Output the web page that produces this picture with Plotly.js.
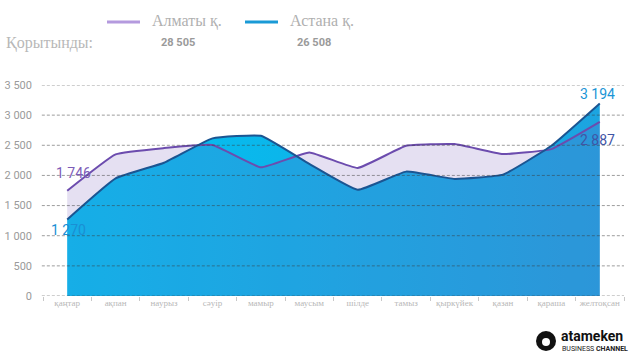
<!DOCTYPE html>
<html>
<head>
<meta charset="utf-8">
<script src="https://cdn.plot.ly/plotly-3.0.1.min.js"></script>
<style>html,body{margin:0;padding:0;background:#fff;}#chart{width:632px;height:364px;}</style>
</head>
<body>
<div id="chart"></div>
<script>
const months = ['қаңтар','ақпан','наурыз','сәуір','мамыр','маусым','шілде','тамыз','қыркүйек','қазан','қараша','желтоқсан'];
const almaty = [1746, 2350, 2453, 2504, 2134, 2381, 2124, 2492, 2520, 2355, 2437, 2887];
const astana = [1270, 1951, 2211, 2615, 2657, 2190, 1761, 2063, 1942, 2013, 2492, 3194];
const seriesNames = ['Алматы қ.', 'Астана қ.'];
const totalLabel = 'Қорытынды:';
const totals = [28505, 26508];
const yTicks = [0, 500, 1000, 1500, 2000, 2500, 3000, 3500];

const fmt = v => String(v).replace(/\B(?=(\d{3})+(?!\d))/g, ' ');
// pixel -> paper helpers (plot area 43..624 x, 85..296 y)
const L = 43, R = 624, T = 85, B = 296;
const xp = px => (px - L) / (R - L);
const yp = py => (B - py) / (B - T);

const last = months.length - 1;
const traces = [
  {x: months, y: astana, type: 'scatter', mode: 'lines', fill: 'tozeroy',
   line: {width: 0, shape: 'spline', smoothing: 0.35},
   fillgradient: {type: 'horizontal', colorscale: [[0, '#00c2f2'], [1, '#1ca4e0']]},
   hoverinfo: 'skip', showlegend: false},
  {x: months, y: almaty, type: 'scatter', mode: 'lines', fill: 'tozeroy',
   line: {width: 0, shape: 'spline', smoothing: 0.35},
   fillcolor: 'rgba(118,88,188,0.19)', hoverinfo: 'skip', showlegend: false},
  {x: months, y: almaty, type: 'scatter', mode: 'lines', name: seriesNames[0],
   line: {width: 2, color: '#6c4cae', shape: 'spline', smoothing: 0.35}, showlegend: false},
  {x: months, y: astana, type: 'scatter', mode: 'lines', name: seriesNames[1],
   line: {width: 2, color: '#1b5592', shape: 'spline', smoothing: 0.35}, showlegend: false}
];

const shapes = yTicks.map(v => ({type: 'line', xref: 'paper', yref: 'y', x0: -0.002, x1: 1.0, y0: v, y1: v,
  line: {color: 'rgba(60,60,60,0.5)', width: 1, dash: '3px,2px'}, layer: 'above'}));
// legend samples
shapes.push({type: 'line', xref: 'paper', yref: 'paper', x0: xp(107), x1: xp(140), y0: yp(22), y1: yp(22),
  line: {color: '#b49ade', width: 3}});
shapes.push({type: 'line', xref: 'paper', yref: 'paper', x0: xp(245), x1: xp(278), y0: yp(22), y1: yp(22),
  line: {color: '#1a9ad6', width: 3}});
// logo mark
shapes.push({type: 'circle', xref: 'paper', yref: 'paper', x0: xp(536), x1: xp(556), y0: yp(351), y1: yp(331),
  fillcolor: '#111', line: {width: 0}});
shapes.push({type: 'circle', xref: 'paper', yref: 'paper', x0: xp(542), x1: xp(550), y0: yp(346), y1: yp(338),
  fillcolor: '#fff', line: {width: 0}});

const serif = 'Liberation Serif, Times New Roman, serif';
const annotations = [
  {x: months[0], y: almaty[0], xref: 'x', yref: 'y', text: fmt(almaty[0]), showarrow: false,
   xshift: 6, yshift: 18, font: {family: 'Roboto', size: 14, color: '#7d5cb8'}},
  {x: months[0], y: astana[0], xref: 'x', yref: 'y', text: fmt(astana[0]), showarrow: false,
   xshift: 1, yshift: -11, font: {family: 'Roboto', size: 14, color: '#1a8fd4'}},
  {x: months[last], y: astana[last], xref: 'x', yref: 'y', text: fmt(astana[last]), showarrow: false,
   xshift: -2, yshift: 9, font: {family: 'Roboto', size: 14, color: '#1a95d6'}},
  {x: months[last], y: almaty[last], xref: 'x', yref: 'y', text: fmt(almaty[last]), showarrow: false,
   xshift: -2, yshift: -18, font: {family: 'Roboto', size: 14, color: '#3f55a6'}},
  {xref: 'paper', yref: 'paper', x: xp(150), y: yp(21), xanchor: 'left', yanchor: 'middle', showarrow: false,
   text: seriesNames[0], font: {family: serif, size: 16, color: '#b0b0b0'}},
  {xref: 'paper', yref: 'paper', x: xp(288), y: yp(21), xanchor: 'left', yanchor: 'middle', showarrow: false,
   text: seriesNames[1], font: {family: serif, size: 16, color: '#b0b0b0'}},
  {xref: 'paper', yref: 'paper', x: xp(4), y: yp(43), xanchor: 'left', yanchor: 'middle', showarrow: false,
   text: totalLabel, font: {family: serif, size: 16, color: '#b8b8b8'}},
  {xref: 'paper', yref: 'paper', x: xp(178), y: yp(42), xanchor: 'center', yanchor: 'middle', showarrow: false,
   text: '<b>' + fmt(totals[0]) + '</b>', font: {family: 'Roboto', size: 11, color: '#9a9a9a'}},
  {xref: 'paper', yref: 'paper', x: xp(314), y: yp(42), xanchor: 'center', yanchor: 'middle', showarrow: false,
   text: '<b>' + fmt(totals[1]) + '</b>', font: {family: 'Roboto', size: 11, color: '#9a9a9a'}},
  {xref: 'paper', yref: 'paper', x: xp(559), y: yp(336), xanchor: 'left', yanchor: 'middle', showarrow: false,
   text: '<b>atameken</b>', font: {family: 'Roboto', size: 14, color: '#111'}},
  {xref: 'paper', yref: 'paper', x: xp(560), y: yp(349), xanchor: 'left', yanchor: 'middle', showarrow: false,
   text: 'BUSINESS <b>CHANNEL</b>', font: {family: 'Roboto', size: 7, color: '#222'}}
];

const layout = {
  width: 632, height: 364,
  margin: {l: L, r: 632 - R, t: T, b: 364 - B, pad: 0},
  paper_bgcolor: '#fff', plot_bgcolor: '#fff',
  showlegend: false,
  xaxis: {type: 'category', range: [-0.5, 11.5], showgrid: false, zeroline: false, showline: false,
    ticks: 'outside', tickson: 'boundaries', ticklen: 4, tickcolor: '#c8c8c8', tickwidth: 1,
    tickangle: 0, automargin: false,
    tickfont: {family: serif, size: 9, color: '#b8b8b8'}, fixedrange: true},
  yaxis: {range: [0, 3500], tickvals: yTicks, ticktext: yTicks.map(fmt), showgrid: false, zeroline: false,
    showline: false, ticks: '', ticklabelstandoff: 10,
    tickfont: {family: 'Roboto', size: 11, color: '#9a9a9a'}, fixedrange: true},
  shapes: shapes,
  annotations: annotations
};

Plotly.newPlot('chart', traces, layout, {displayModeBar: false, staticPlot: true});
</script>
</body>
</html>
